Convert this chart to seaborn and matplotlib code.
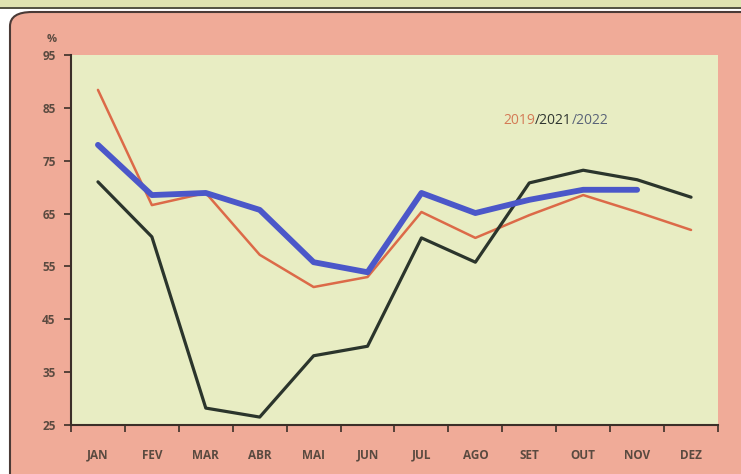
import matplotlib
matplotlib.use("Agg")
import matplotlib.pyplot as plt
import seaborn as sns
import pandas as pd
import numpy as np
from matplotlib.patches import FancyBboxPatch, Rectangle

months = ["JAN", "FEV", "MAR", "ABR", "MAI", "JUN", "JUL", "AGO", "SET", "OUT", "NOV", "DEZ"]
y2019 = [88.4, 66.6, 68.9, 57.2, 51.1, 53.0, 65.3, 60.4, 64.7, 68.5, 65.3, 61.9]
y2021 = [71.0, 60.6, 28.2, 26.5, 38.1, 39.9, 60.4, 55.8, 70.8, 73.2, 71.4, 68.1]
y2022 = [78.0, 68.5, 68.9, 65.7, 55.8, 53.9, 68.9, 65.1, 67.6, 69.5, 69.5]
yticks = [25, 35, 45, 55, 65, 75, 85, 95]

sns.set_theme(style="white")
plt.rcParams['font.family'] = ['Open Sans', 'DejaVu Sans']

W, H = 741, 474
fig = plt.figure(figsize=(W / 100, H / 100), dpi=100)
fig.patch.set_facecolor("white")

# top table remnant
fig.add_artist(Rectangle((0, 1 - 9 / H), 1, 9 / H, transform=fig.transFigure,
                         facecolor="#dfe3b0", edgecolor="none", zorder=0))
fig.add_artist(Rectangle((0, 1 - 9 / H), 1, 0.004, transform=fig.transFigure,
                         facecolor="#555544", edgecolor="none", zorder=0))
# pink rounded panel
panel = FancyBboxPatch((10 / W, -0.05), 1.05, 1 - 12 / H + 0.05, transform=fig.transFigure,
                       boxstyle="round,pad=0,rounding_size=0.03",
                       facecolor="#f0ab98", edgecolor="#4a3a36", linewidth=1.5, zorder=0)
fig.add_artist(panel)

ax = fig.add_axes([71 / W, 1 - 425 / H, 647 / W, 370 / H])
ax.set_facecolor("#e8edc3")

df19 = pd.DataFrame({"mes": months, "v": y2019})
df21 = pd.DataFrame({"mes": months, "v": y2021})
df22 = pd.DataFrame({"mes": months[:len(y2022)], "v": y2022})

sns.lineplot(data=df19, x="mes", y="v", ax=ax, color="#dc6a48", linewidth=1.8, sort=False)
sns.lineplot(data=df21, x="mes", y="v", ax=ax, color="#2b352c", linewidth=2.3, sort=False)
sns.lineplot(data=df22, x="mes", y="v", ax=ax, color="#4b57c9", linewidth=4.2, sort=False)

ax.set_xlim(-0.5, 11.5)
ax.set_ylim(25, 95)
ax.set_yticks(yticks)
ax.set_yticklabels([str(t) for t in yticks])
ax.set_xticks(range(12))
ax.set_xticklabels(months)
ax.set_xticks(np.arange(-0.5, 12, 1), minor=True)
ax.set_xlabel("")
ax.set_ylabel("")

for s in ["top", "right"]:
    ax.spines[s].set_visible(False)
for s in ["left", "bottom"]:
    ax.spines[s].set_color("#3b2f28")
    ax.spines[s].set_linewidth(1.5)

ax.tick_params(axis="y", which="major", direction="out", length=5, width=1.2, color="#3b2f28",
               labelsize=8.5, labelcolor="#5a4a40", pad=6, left=True)
ax.tick_params(axis="x", which="major", length=0, labelsize=8.5, labelcolor="#5a4a40", pad=17, bottom=True)
ax.tick_params(axis="x", which="minor", direction="out", length=5, width=1.2, color="#3b2f28", bottom=True)
for lbl in ax.get_xticklabels() + ax.get_yticklabels():
    lbl.set_fontweight("bold")

fig.text(52 / W, 1 - 40 / H, "%", fontsize=8, color="#5a4a40", ha="center", va="center", fontweight="bold")

# legend text
ty = 1 - 120 / H
t1 = fig.text(503 / W, ty, "2019", fontsize=10, color="#d47a55", ha="left", va="center")
fig.canvas.draw()
r = fig.canvas.get_renderer()
bb = t1.get_window_extent(r)
t2 = fig.text(bb.x1 / W, ty, "/2021", fontsize=10, color="#2f3530", ha="left", va="center")
bb2 = t2.get_window_extent(r)
t3 = fig.text(bb2.x1 / W, ty, "/2022", fontsize=10, color="#5a6478", ha="left", va="center")

fig.savefig("out.png", dpi=100)
